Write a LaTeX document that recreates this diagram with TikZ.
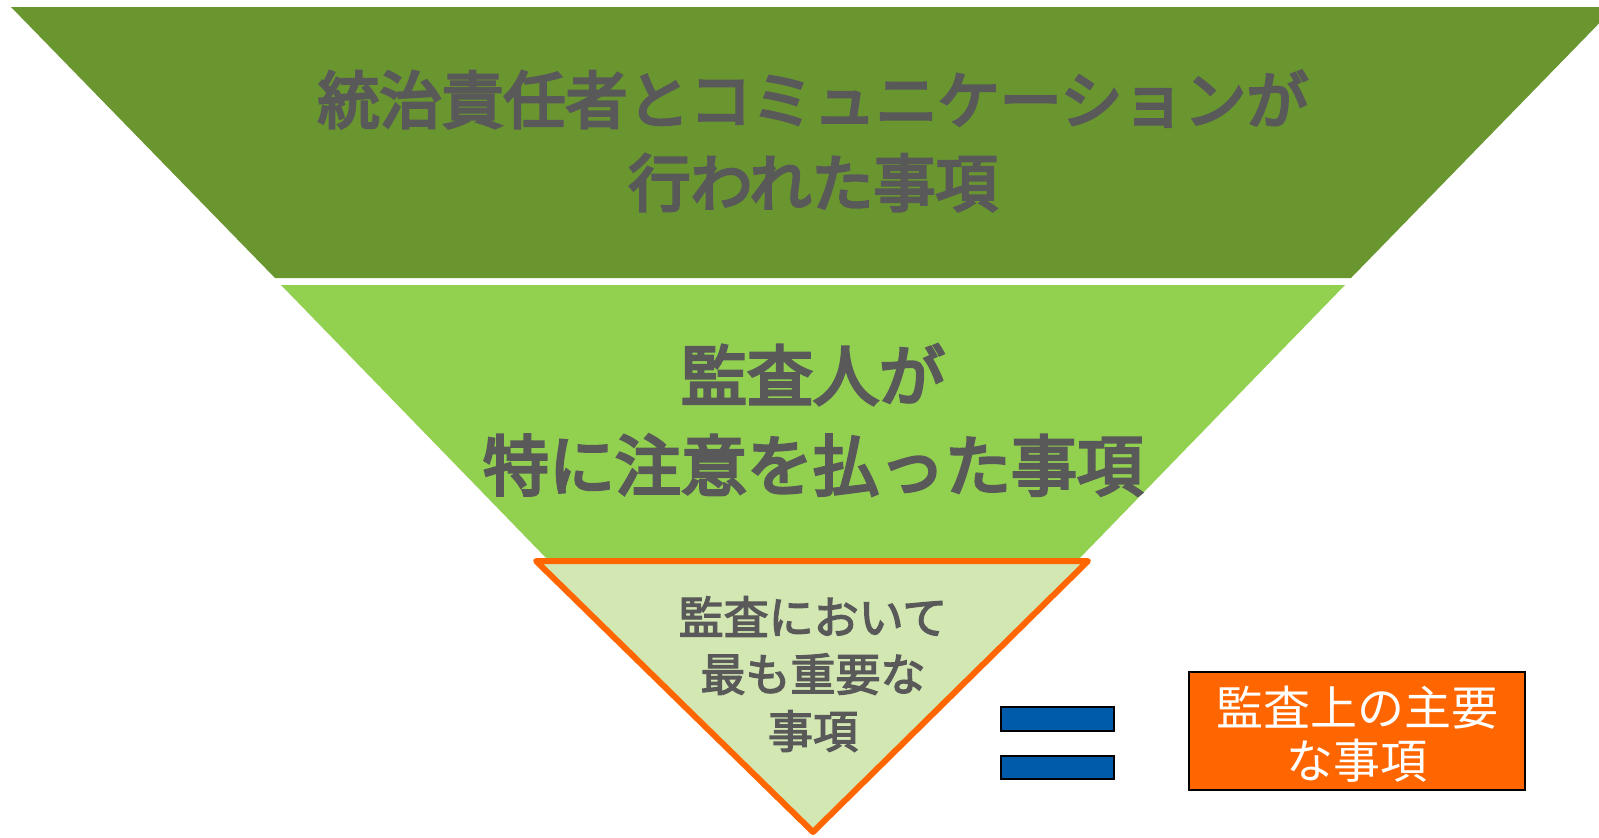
\documentclass[tikz,border=0pt]{standalone}
\usepackage{fontspec}
\newfontfamily\jp{Noto Sans CJK JP}
\newfontfamily\jpb[FakeBold=4.5]{Noto Sans CJK JP}
\newfontfamily\jpm[FakeBold=3]{Noto Sans CJK JP}
\definecolor{dkgreen}{HTML}{6A962F}
\definecolor{ltgreen}{HTML}{92D050}
\definecolor{palegreen}{HTML}{D3E7B3}
\definecolor{orng}{HTML}{FF6600}
\definecolor{txtgray}{HTML}{595959}
\definecolor{barblue}{HTML}{005BAA}
\begin{document}
\begin{tikzpicture}[x=1pt,y=-1pt,
  lbl/.style={align=center,inner sep=0pt,text=txtgray},
  bar/.style={fill=barblue,draw=black,line width=1.2pt}]
\useasboundingbox (0,0) rectangle (1599,838);
\clip (0,0) rectangle (1599,838);
% layers
\path[fill=dkgreen] (11,7) -- (1615,7) -- (1351,278) -- (275,278) -- cycle;
\path[fill=ltgreen] (281,285) -- (1345,285) -- (1077,561) -- (549,561) -- cycle;
\draw[fill=palegreen,draw=orng,line width=6pt,line join=round] (536,561) -- (1088,561) -- (813,832) -- cycle;
% texts
\node[lbl,font=\jpb\fontsize{62}{83}\selectfont] (t1) at (813,141) {統治責任者とコミュニケーションが\\行われた事項};
\node[lbl,font=\jpb\fontsize{66}{90}\selectfont] (t2) at (813,420) {監査人が\\特に注意を払った事項};
\node[lbl,font=\jpm\fontsize{45}{57}\selectfont] (t3) at (813,674) {監査において\\最も重要な\\事項};
% equals
\path[bar] (1001,707) rectangle (1114,731);
\path[bar] (1001,756) rectangle (1114,779);
% box
\node[draw=black,line width=1.5pt,fill=orng,minimum width=336pt,minimum height=118pt,inner sep=0pt] (kam) at (1357,731) {};
\node[text=white,align=center,inner sep=0pt,font=\jp\fontsize{47}{53}\selectfont] (kamt) at (1357,734) {監査上の主要\\な事項};
\end{tikzpicture}
\end{document}
